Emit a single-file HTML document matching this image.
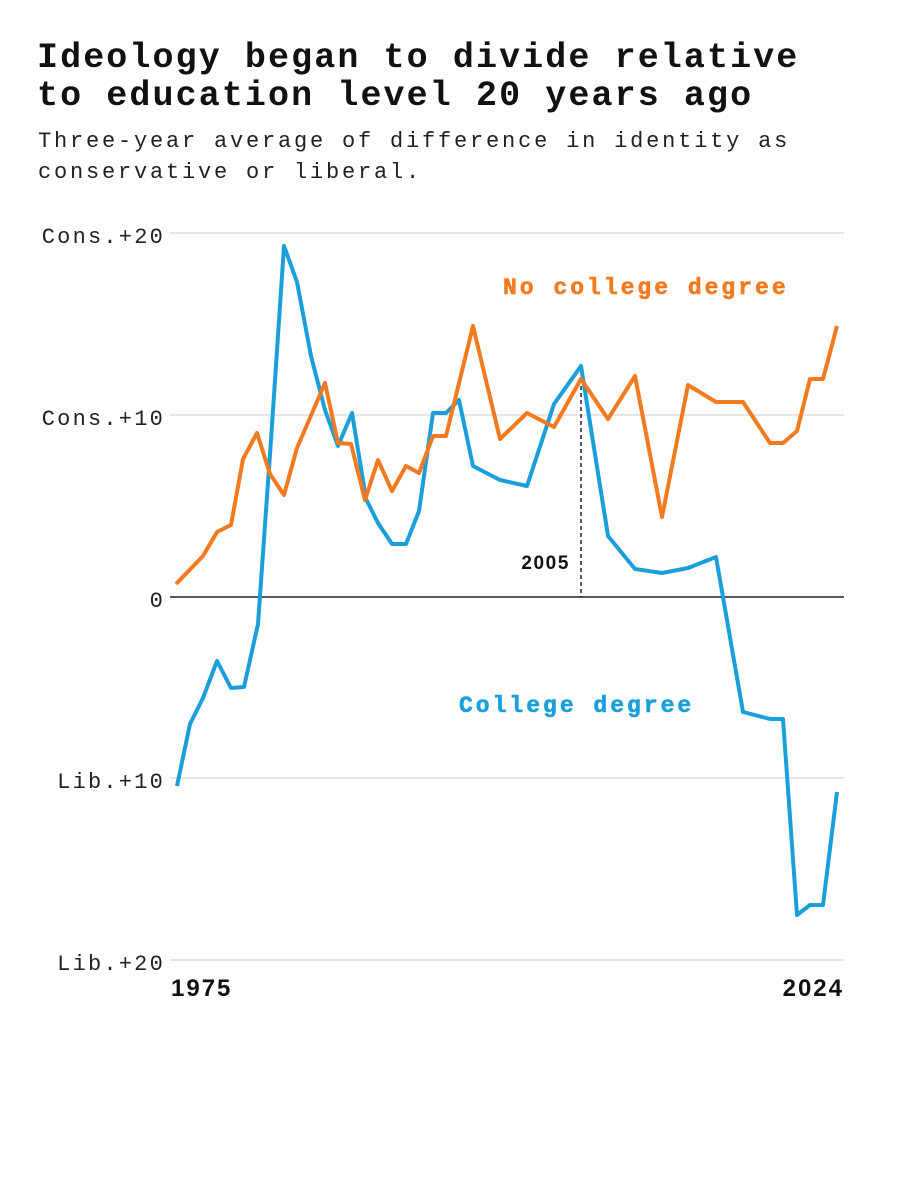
<!DOCTYPE html>
<html><head><meta charset="utf-8"><style>
body{margin:0;background:#fff;width:900px;height:1182px;overflow:hidden}
</style></head><body>
<svg width="900" height="1182" xmlns="http://www.w3.org/2000/svg">
<g font-family="Liberation Mono, monospace" font-weight="bold" font-size="35" fill="#111" letter-spacing="2.1">
<text x="37" y="67">Ideology began to divide relative</text>
<text x="37" y="105">to education level 20 years ago</text>
</g>
<g font-family="Liberation Mono, monospace" font-size="22" fill="#222" letter-spacing="2.8">
<text x="38" y="147">Three-year average of difference in identity as</text>
<text x="38" y="178">conservative or liberal.</text>
</g>
<g stroke="#ccc" stroke-width="1">
<line x1="170" y1="233" x2="844" y2="233"/>
<line x1="170" y1="415" x2="844" y2="415"/>
<line x1="170" y1="778" x2="844" y2="778"/>
<line x1="170" y1="960" x2="844" y2="960"/>
</g>
<line x1="170" y1="597" x2="844" y2="597" stroke="#222" stroke-width="1.5"/>
<g font-family="Liberation Mono, monospace" font-size="22" fill="#222" text-anchor="end" letter-spacing="2.2">
<text x="165" y="243">Cons.+20</text>
<text x="165" y="425">Cons.+10</text>
<text x="165" y="607">0</text>
<text x="165" y="788">Lib.+10</text>
<text x="165" y="970">Lib.+20</text>
</g>
<line x1="581" y1="379" x2="581" y2="597" stroke="#222" stroke-width="1.5" stroke-dasharray="4,3"/>
<text x="570" y="569" text-anchor="end" font-family="Liberation Sans, sans-serif" font-weight="bold" font-size="19" fill="#111" letter-spacing="1.6">2005</text>
<polyline fill="none" stroke="#1a9fdb" stroke-width="4" stroke-linejoin="round" points="177,786 190,724 203,698 217,661 231,688 244,687 258,624 271,440 284,246 297,282 311,356 325,410 338,446 352,413 366,499 378,523 392,544 406,544 419,511 433,413 446,413 459,400 473,466 500,480 527,486 554,404 581,366 608,536 635,569 662,573 688,568 716,557 743,712 770,719 783,719 797,915 810,905 823,905 837,792"/>
<polyline fill="none" stroke="#f47a20" stroke-width="4" stroke-linejoin="round" points="176,584 203,556 217,532 231,525 243,459 257,433 270,474 284,495 297,448 325,383 338,443 351,444 365,500 378,460 392,491 406,466 419,473 433,436 446,436 473,326 500,439 527,413 554,427 581,379 608,419 635,376 662,517 688,385 716,402 743,402 770,443 783,443 797,431 810,379 823,379 837,326"/>
<g font-family="Liberation Mono, monospace" font-weight="bold" font-size="23" letter-spacing="3" stroke-width="0.6">
<text x="503" y="294" fill="#f47a20" stroke="#f47a20">No college degree</text>
<text x="459" y="712" fill="#1a9fdb" stroke="#1a9fdb">College degree</text>
</g>
<g font-family="Liberation Sans, sans-serif" font-weight="bold" font-size="24" fill="#111" letter-spacing="2">
<text x="171" y="996">1975</text>
<text x="844" y="996" text-anchor="end">2024</text>
</g>
</svg>
</body></html>
